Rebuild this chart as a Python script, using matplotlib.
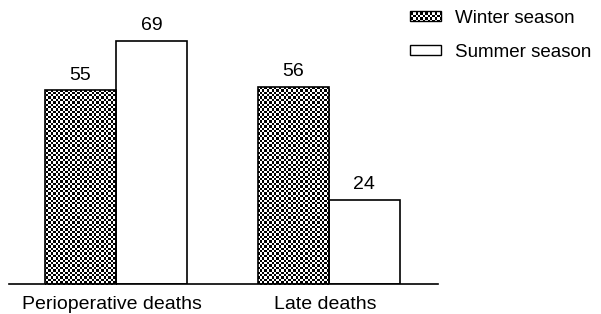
import numpy as np
import matplotlib
matplotlib.use("Agg")
import matplotlib.pyplot as plt
import matplotlib.transforms as mtransforms
from matplotlib.patches import Patch

categories = ["Perioperative deaths", "Late deaths"]
winter = [55, 56]
summer = [69, 24]
series_names = ["Winter season", "Summer season"]

plt.rcParams['font.family'] = ['Liberation Sans', 'DejaVu Sans']

W, H = 601, 314
fig = plt.figure(figsize=(W / 100, H / 100), dpi=100)
fig.patch.set_facecolor('white')

# axes placed so the baseline sits at y=284 px
ax = fig.add_axes([9 / W, 30 / H, 429 / W, 280 / H])
ax.patch.set_visible(False)

x = np.arange(len(categories))
w = 0.333
b_w = ax.bar(x - w / 2, winter, w, facecolor='none', edgecolor='black', linewidth=1.2, zorder=3)
b_s = ax.bar(x + w / 2, summer, w, facecolor='none', edgecolor='black', linewidth=1.2, zorder=3)

for rects, vals in [(b_w, winter), (b_s, summer)]:
    for r, v in zip(rects, vals):
        ax.text(r.get_x() + r.get_width() / 2, v + 1.9, str(v), ha='center', va='bottom', fontsize=14)

ax.set_xlim(-0.502, 1.512)
ax.set_ylim(0, 280 / 3.52)
ax.set_xticks(x)
ax.set_xticklabels(categories, fontsize=14)
ax.tick_params(axis='x', length=0, pad=8.5)
# labels sit a little left of the group centre in the original
shift = mtransforms.ScaledTranslation(-4 / 100, 0, fig.dpi_scale_trans)
for lab in ax.get_xticklabels():
    lab.set_transform(lab.get_transform() + shift)
ax.set_yticks([])
for s in ['top', 'right', 'left']:
    ax.spines[s].set_visible(False)
ax.spines['bottom'].set_linewidth(1.2)

handles = [Patch(facecolor='none', edgecolor='black', linewidth=1.0),
           Patch(facecolor='none', edgecolor='black', linewidth=1.0)]
leg = ax.legend(handles, series_names, loc='upper left', bbox_to_anchor=(410 / W, 1 - 10 / H),
                bbox_transform=fig.transFigure, frameon=False, fontsize=13.5,
                handlelength=1.65, handleheight=0.45, handletextpad=0.75,
                labelspacing=0.9, borderpad=0, borderaxespad=0)

# checkerboard fill, 1:1 with figure pixels, clipped to the winter patches
yy, xx = np.mgrid[0:H, 0:W]
checker = ((np.floor(xx / 2.4) + np.floor(yy / 2.4)) % 2).astype(float)

fig.canvas.draw()
clip_patches = list(b_w) + [leg.legend_handles[0]]
for p in clip_patches:
    im = fig.figimage(checker, cmap='gray', vmin=0, vmax=1, zorder=-1, origin='upper')
    im.set_clip_path(p)

fig.savefig("out.png", dpi=100, facecolor='white')
